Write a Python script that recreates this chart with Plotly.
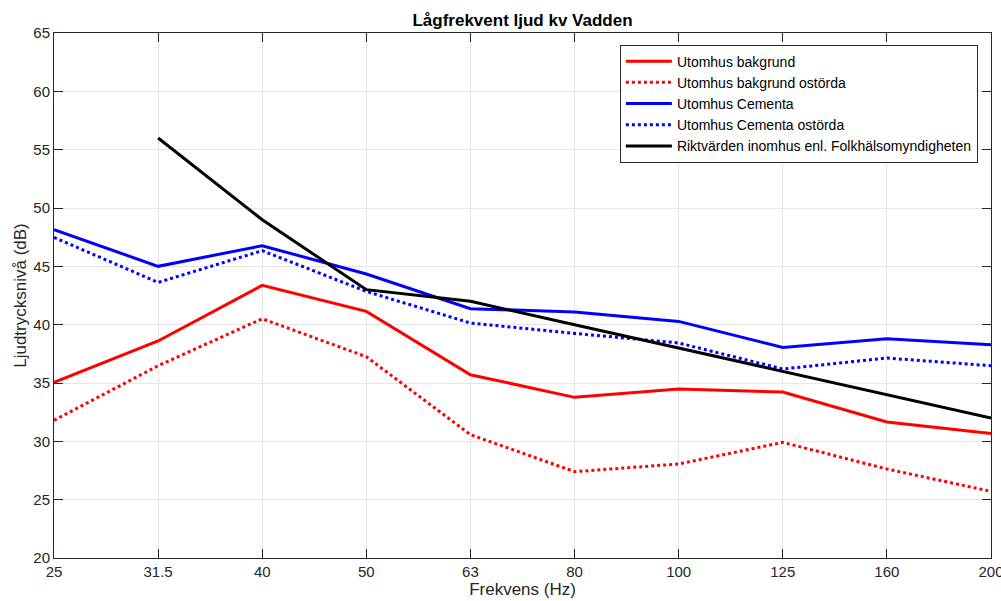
import plotly.graph_objects as go

freqs = ["25", "31.5", "40", "50", "63", "80", "100", "125", "160", "200"]
bakgrund = [35.05, 38.6, 43.37, 41.14, 35.71, 33.77, 34.48, 34.23, 31.66, 30.66]
bakgrund_ost = [31.8, 36.48, 40.51, 37.25, 30.57, 27.4, 28.06, 29.91, 27.63, 25.71]
cementa = [48.14, 45.0, 46.77, 44.34, 41.37, 41.09, 40.28, 38.05, 38.8, 38.28]
cementa_ost = [47.48, 43.62, 46.34, 42.85, 40.14, 39.25, 38.43, 36.2, 37.14, 36.48]
riktvarden = [None, 56, 49, 43, 42, 40, 38, 36, 34, 32]

names = [
    "Utomhus bakgrund",
    "Utomhus bakgrund ostörda",
    "Utomhus Cementa",
    "Utomhus Cementa ostörda",
    "Riktvärden inomhus enl. Folkhälsomyndigheten",
]
series = [bakgrund, bakgrund_ost, cementa, cementa_ost, riktvarden]
colors = ["#ff0000", "#ff0000", "#0000ff", "#0000ff", "#000000"]
dashes = ["solid", "dot", "solid", "dot", "solid"]

fig = go.Figure()
for n, s, c, d in zip(names, series, colors, dashes):
    fig.add_trace(go.Scatter(
        x=freqs, y=s, name=n, mode="lines",
        line=dict(color=c, width=3, dash=d),
        connectgaps=False,
    ))

font_family = "Liberation Sans, Arial, Helvetica, sans-serif"
axis_common = dict(
    showline=True, linecolor="#262626", linewidth=1, mirror="ticks",
    ticks="inside", ticklen=9, tickcolor="#262626",
    showgrid=True, gridcolor="#e6e6e6", gridwidth=1,
    zeroline=False, automargin=False,
    tickfont=dict(family=font_family, size=15, color="#262626"),
)

fig.update_layout(
    width=1001, height=601,
    margin=dict(l=54, r=10, t=33, b=43),
    paper_bgcolor="white", plot_bgcolor="white",
    font=dict(family=font_family, color="#262626"),
    title=dict(
        text="<b>Lågfrekvent ljud kv Vadden</b>",
        x=0.522, xanchor="center", y=0.967, yanchor="middle",
        font=dict(family=font_family, size=17, color="black"),
    ),
    xaxis=dict(
        type="category", range=[0, 9],
        title=dict(text="Frekvens (Hz)", standoff=2,
                   font=dict(family=font_family, size=17, color="#262626")),
        **axis_common,
    ),
    yaxis=dict(
        range=[20, 65], dtick=5,
        title=dict(text="Ljudtrycksnivå (dB)", standoff=2,
                   font=dict(family=font_family, size=17, color="#262626")),
        **axis_common,
    ),
    legend=dict(
        x=0.986, xanchor="right", y=0.978, yanchor="top",
        bgcolor="white", bordercolor="#262626", borderwidth=1,
        font=dict(family=font_family, size=14, color="black"),
        tracegroupgap=0, itemwidth=46,
    ),
    showlegend=True,
)

fig.write_html(
    "out.html",
    config={"displayModeBar": False},
    post_script="document.body.style.margin='0';document.body.style.overflow='hidden';",
)
